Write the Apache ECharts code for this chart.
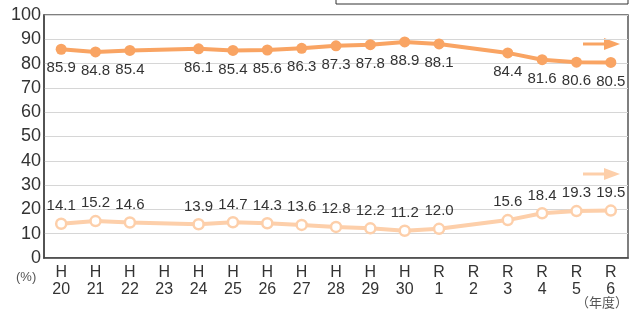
<!DOCTYPE html>
<html>
<head>
<meta charset="utf-8">
<script src="https://cdn.jsdelivr.net/npm/echarts@6/dist/echarts.min.js"></script>
<style>
  html, body { margin: 0; padding: 0; background: #fff; }
  #main { width: 640px; height: 316px; }
</style>
</head>
<body>
<div id="main"></div>
<script>
// 年度（H=平成, R=令和）
var years = ['H\n20', 'H\n21', 'H\n22', 'H\n23', 'H\n24', 'H\n25', 'H\n26', 'H\n27', 'H\n28',
  'H\n29', 'H\n30', 'R\n1', 'R\n2', 'R\n3', 'R\n4', 'R\n5', 'R\n6'];
// 上の系列（H23, R2 は欠測）
var upperValues = [85.9, 84.8, 85.4, null, 86.1, 85.4, 85.6, 86.3, 87.3, 87.8, 88.9, 88.1, null, 84.4, 81.6, 80.6, 80.5];
// 下の系列
var lowerValues = [14.1, 15.2, 14.6, null, 13.9, 14.7, 14.3, 13.6, 12.8, 12.2, 11.2, 12.0, null, 15.6, 18.4, 19.3, 19.5];
var yTicks = [0, 10, 20, 30, 40, 50, 60, 70, 80, 90, 100];

var upperColor = '#f9a463';
var lowerColor = '#fdcfaa';
var fontFamily = '"Liberation Sans", Arial, sans-serif';

function arrow(y, color) {
  return [
    { type: 'line', shape: { x1: 583, y1: y, x2: 607, y2: y }, style: { stroke: color, lineWidth: 3 } },
    { type: 'polygon', shape: { points: [[604, y - 6], [620, y], [604, y + 6]] }, style: { fill: color } }
  ];
}

var chart = echarts.init(document.getElementById('main'));
chart.setOption({
  animation: false,
  textStyle: { fontFamily: fontFamily },
  grid: {
    left: 44, right: 12, top: 15, bottom: 58,
    show: true, borderColor: '#555', borderWidth: 1.5, backgroundColor: 'transparent'
  },
  xAxis: {
    type: 'category',
    data: years,
    boundaryGap: true,
    axisLine: { lineStyle: { color: '#444', width: 1.5 } },
    axisTick: { show: false },
    axisLabel: { color: '#333', fontSize: 16, lineHeight: 17, margin: 6, interval: 0 }
  },
  yAxis: {
    type: 'value',
    min: 0, max: 100, interval: 10,
    axisLine: { show: true, lineStyle: { color: '#444', width: 1.5 } },
    axisTick: { show: false },
    axisLabel: {
      color: '#333', fontSize: 18, margin: 3,
      formatter: function (v) { return yTicks.indexOf(v) >= 0 ? String(v) : ''; }
    },
    splitLine: { lineStyle: { color: '#d6d6d6', width: 1 } }
  },
  series: [
    {
      type: 'line',
      data: upperValues,
      connectNulls: true,
      symbol: 'circle',
      symbolSize: 11,
      lineStyle: { color: upperColor, width: 4 },
      itemStyle: { color: upperColor },
      label: { show: true, position: 'bottom', distance: 6, color: '#333', fontSize: 15,
        formatter: function (p) { return p.value.toFixed(1); } }
    },
    {
      type: 'line',
      data: lowerValues,
      connectNulls: true,
      symbol: 'circle',
      symbolSize: 10,
      lineStyle: { color: lowerColor, width: 4 },
      itemStyle: { color: '#fff', borderColor: lowerColor, borderWidth: 2.5 },
      label: { show: true, position: 'top', distance: 4, color: '#333', fontSize: 15,
        formatter: function (p) { return p.value.toFixed(1); } }
    }
  ],
  graphic: [
    { type: 'rect', shape: { x: 336, y: -10, width: 292, height: 14 },
      style: { fill: 'none', stroke: '#333', lineWidth: 1 } },
    { type: 'text', left: 16, top: 271, style: { text: '(%)', fill: '#555', fontSize: 13, fontFamily: fontFamily } },
    { type: 'text', right: 12, top: 296, style: { text: '（年度）', fill: '#555', fontSize: 13, fontFamily: '"Noto Sans CJK JP", sans-serif' } }
  ].concat(arrow(44, upperColor), arrow(174, lowerColor))
});
</script>
</body>
</html>
